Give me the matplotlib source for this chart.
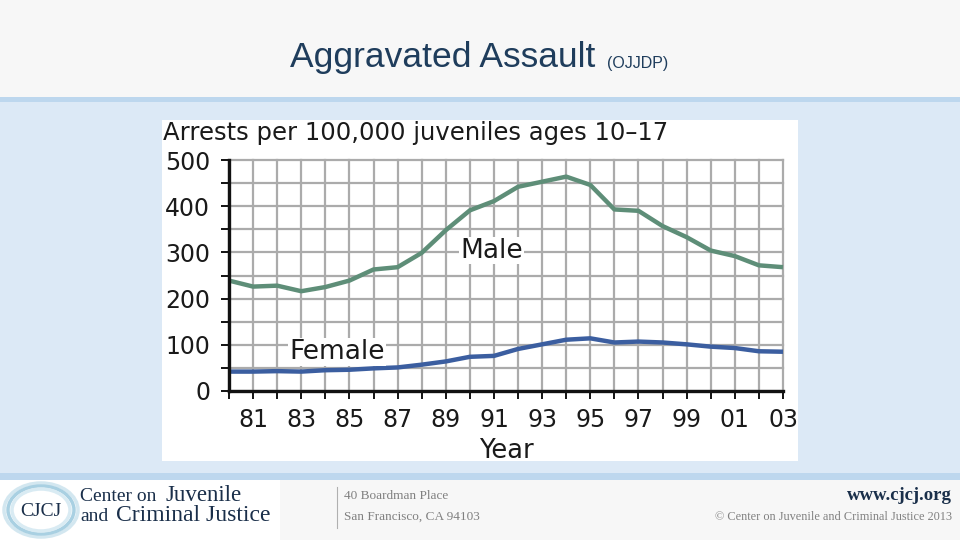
import matplotlib
matplotlib.use('Agg')
import matplotlib.pyplot as plt
from matplotlib.patches import Rectangle, Ellipse
from matplotlib.lines import Line2D

# data
years = list(range(1980, 2004))
male = [239, 226, 228, 216, 225, 239, 263, 268, 299, 348, 391, 411,
        442, 453, 464, 446, 393, 390, 357, 333, 304, 292, 272, 268]
female = [42, 42, 43, 42, 45, 46, 49, 51, 57, 64, 74, 76,
          91, 101, 111, 114, 105, 107, 105, 101, 96, 93, 86, 85]
label_years = list(range(1981, 2004, 2))
label_text = ['%02d' % (y % 100) for y in label_years]
y_ticks = [0, 100, 200, 300, 400, 500]

W, H = 960, 540
NAVY = '#1a2f4a'


def fx(x):
    return x / W


def fy(y):
    return 1 - y / H


def box(fig, x0, y0, x1, y1, color):
    fig.add_artist(Rectangle((fx(x0), fy(y1)), fx(x1) - fx(x0), fy(y0) - fy(y1),
                             transform=fig.transFigure, facecolor=color,
                             edgecolor='none', zorder=0))


def slide_background(fig):
    box(fig, 0, 0, W, 97, '#f7f7f7')
    box(fig, 0, 97, W, 102, '#bdd7ee')
    box(fig, 0, 102, W, 473, '#dce9f6')
    box(fig, 0, 473, W, 480, '#bdd7ee')
    box(fig, 0, 480, W, H, '#f7f7f7')
    box(fig, 0, 480, 280, H, '#ffffff')
    box(fig, 162, 120, 798, 461, '#ffffff')


def slide_text(fig):
    fig.text(fx(290), fy(67), 'Aggravated Assault', family='Liberation Sans',
             fontsize=25.5, color='#1f3d5c', va='baseline', ha='left')
    fig.text(fx(607), fy(68), '(OJJDP)', family='Liberation Sans',
             fontsize=11.5, color='#1f3d5c', va='baseline', ha='left')

    # footer
    fig.add_artist(Line2D([fx(337), fx(337)], [fy(487), fy(528)],
                          transform=fig.transFigure, color='#b0b0b0', lw=0.8))
    fig.text(fx(344), fy(496), '40 Boardman Place', family='Liberation Serif',
             fontsize=9.5, color='#808080', va='center')
    fig.text(fx(344), fy(517), 'San Francisco, CA 94103', family='Liberation Serif',
             fontsize=9.5, color='#808080', va='center')
    fig.text(fx(952), fy(495), 'www.cjcj.org', family='Liberation Serif',
             fontsize=13.5, weight='bold', color=NAVY, va='center', ha='right')
    fig.text(fx(952), fy(517), '\u00a9 Center on Juvenile and Criminal Justice 2013',
             family='Liberation Serif', fontsize=8.8, color='#808080',
             va='center', ha='right')

    # logo
    for w, h, c in [(74, 54, '#d3e7f0'), (66, 48, '#a9d0e2'), (58, 42, '#d9ebf3')]:
        fig.add_artist(Ellipse((fx(41), fy(510)), w / W, h / H, transform=fig.transFigure,
                               facecolor='none', edgecolor=c, lw=2.5))
    fig.text(fx(41), fy(511), 'CJCJ', family='Liberation Serif', fontsize=14,
             color=NAVY, ha='center', va='center')
    fig.text(fx(80), fy(501), 'Center on', family='Liberation Serif',
             fontsize=14, color=NAVY, va='baseline')
    fig.text(fx(166), fy(501), 'Juvenile', family='Liberation Serif',
             fontsize=16.5, color=NAVY, va='baseline')
    fig.text(fx(80), fy(521), 'and', family='Liberation Serif',
             fontsize=14, color=NAVY, va='baseline')
    fig.text(fx(116), fy(521), 'Criminal Justice', family='Liberation Serif',
             fontsize=17, color=NAVY, va='baseline')


def arrests_plot(fig):
    ax = fig.add_axes([fx(229), fy(391), fx(783) - fx(229), fy(160) - fy(391)])
    ax.set_facecolor('white')
    ax.set_xlim(1980, 2003)
    ax.set_ylim(0, 500)

    ax.set_xticks(years, minor=True)
    ax.set_xticks(label_years)
    ax.set_xticklabels(label_text)
    ax.set_yticks(range(0, 501, 50), minor=True)
    ax.set_yticks(y_ticks)
    ax.set_yticklabels([str(v) for v in y_ticks])

    ax.grid(which='both', color='#ababab', lw=1.6, zorder=1)
    ax.set_axisbelow(True)
    for axis in (ax.xaxis, ax.yaxis):
        for t in axis.get_major_ticks() + axis.get_minor_ticks():
            t.gridline.set_clip_on(False)

    for s in ['top', 'right']:
        ax.spines[s].set_visible(False)
    for s in ['left', 'bottom']:
        ax.spines[s].set_linewidth(2.4)
        ax.spines[s].set_color('#111111')
        ax.spines[s].set_zorder(5)

    ax.tick_params(which='both', direction='out', length=5.5, width=1.4,
                   color='#111111', labelsize=17, labelcolor='#1a1a1a')
    ax.tick_params(axis='x', pad=7)
    ax.tick_params(axis='y', pad=8)
    for t in ax.get_xticklabels() + ax.get_yticklabels():
        t.set_family('DejaVu Sans')

    ax.plot(years, male, color='#5e8e78', lw=3.2, solid_capstyle='butt', zorder=3, clip_on=False)
    ax.plot(years, female, color='#3b5ea0', lw=3.2, solid_capstyle='butt', zorder=3, clip_on=False)

    ax.text(1989.6, 304, 'Male', fontsize=19, family='DejaVu Sans',
            color='#1a1a1a', va='center', ha='left',
            bbox=dict(facecolor='white', edgecolor='none', pad=0.5))
    ax.text(1982.5, 84, 'Female', fontsize=19, family='DejaVu Sans',
            color='#1a1a1a', va='center', ha='left',
            bbox=dict(facecolor='white', edgecolor='none', pad=0.5))

    ax.set_xlabel('Year', fontsize=18.5, family='DejaVu Sans', color='#1a1a1a', labelpad=4)
    fig.text(fx(163), fy(133), 'Arrests per 100,000 juveniles ages 10\u201317',
             family='DejaVu Sans', fontsize=17.5, color='#1a1a1a', va='center', ha='left')


def main():
    fig = plt.figure(figsize=(9.6, 5.4), dpi=100)
    slide_background(fig)
    slide_text(fig)
    arrests_plot(fig)
    fig.savefig('out.png', dpi=100)


if __name__ == "__main__":
    main()
